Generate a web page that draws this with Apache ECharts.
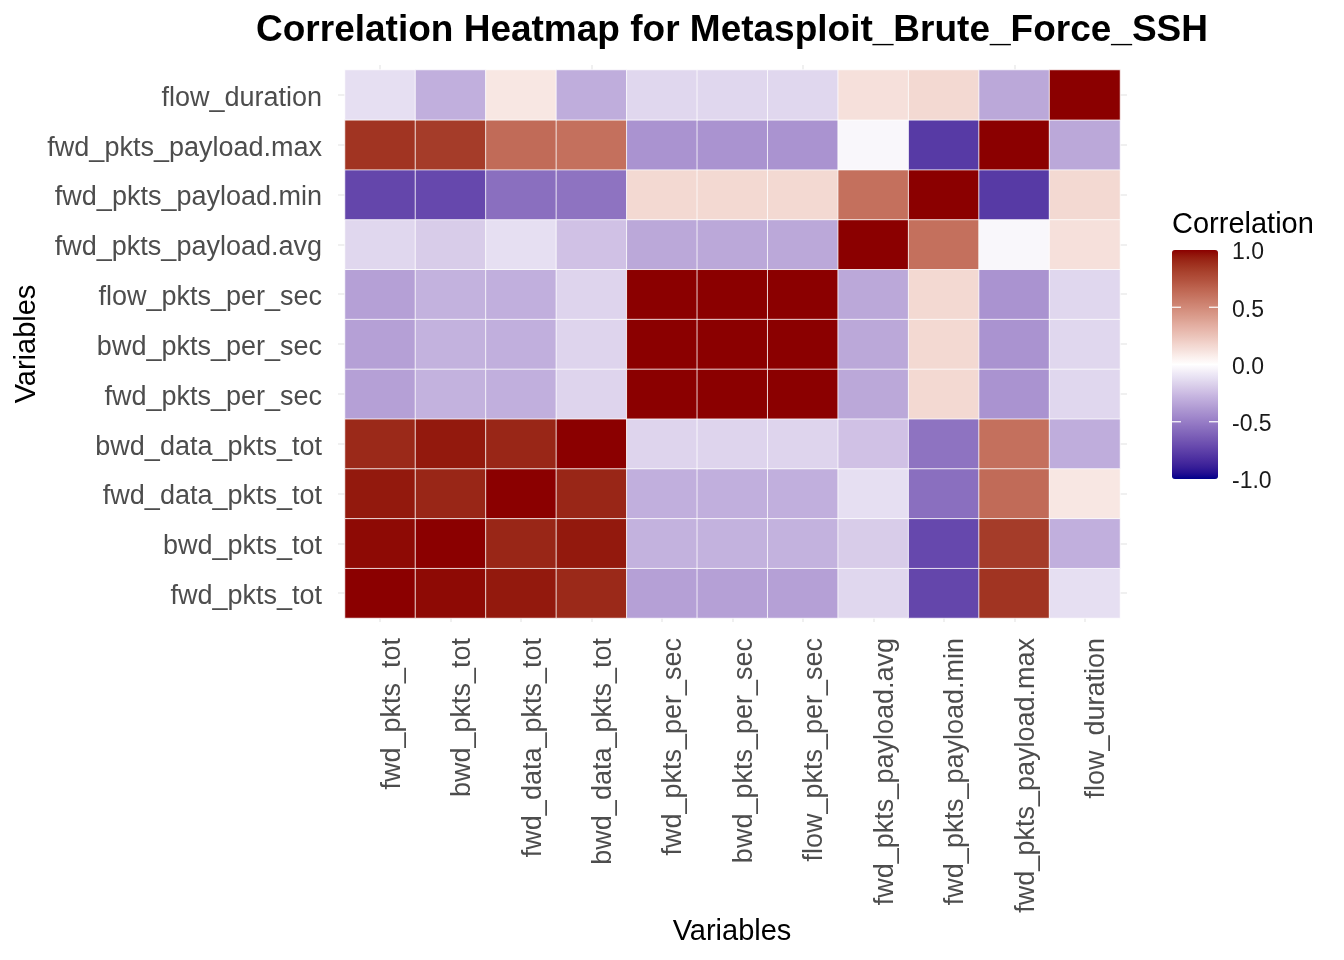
<!DOCTYPE html>
<html>
<head>
<meta charset="utf-8">
<script src="https://cdn.jsdelivr.net/npm/echarts@6/dist/echarts.min.js"></script>
<style>
html,body{margin:0;padding:0;background:#fff;}
#chart{width:1344px;height:960px;}
</style>
</head>
<body>
<div id="chart"></div>
<script>
// ---- data ----
const variables = [
  "fwd_pkts_tot", "bwd_pkts_tot", "fwd_data_pkts_tot", "bwd_data_pkts_tot",
  "fwd_pkts_per_sec", "bwd_pkts_per_sec", "flow_pkts_per_sec",
  "fwd_pkts_payload.avg", "fwd_pkts_payload.min", "fwd_pkts_payload.max", "flow_duration"
];
const fwd_pkts_tot         = [ 1.00,  0.98,  0.95,  0.90, -0.36, -0.36, -0.36, -0.15, -0.73,  0.86, -0.12];
const bwd_pkts_tot         = [ 0.98,  1.00,  0.91,  0.95, -0.29, -0.29, -0.29, -0.19, -0.72,  0.83, -0.30];
const fwd_data_pkts_tot    = [ 0.95,  0.91,  1.00,  0.91, -0.30, -0.30, -0.30, -0.12, -0.56,  0.63,  0.10];
const bwd_data_pkts_tot    = [ 0.90,  0.95,  0.91,  1.00, -0.16, -0.16, -0.16, -0.23, -0.54,  0.61, -0.31];
const fwd_pkts_per_sec     = [-0.36, -0.29, -0.30, -0.16,  1.00,  1.00,  1.00, -0.33,  0.16, -0.41, -0.15];
const bwd_pkts_per_sec     = [-0.36, -0.29, -0.30, -0.16,  1.00,  1.00,  1.00, -0.33,  0.16, -0.41, -0.15];
const flow_pkts_per_sec    = [-0.36, -0.29, -0.30, -0.16,  1.00,  1.00,  1.00, -0.33,  0.16, -0.41, -0.15];
const fwd_pkts_payload_avg = [-0.15, -0.19, -0.12, -0.23, -0.33, -0.33, -0.33,  1.00,  0.61, -0.03,  0.13];
const fwd_pkts_payload_min = [-0.73, -0.72, -0.56, -0.54,  0.16,  0.16,  0.16,  0.61,  1.00, -0.78,  0.16];
const fwd_pkts_payload_max = [ 0.86,  0.83,  0.63,  0.61, -0.41, -0.41, -0.41, -0.03, -0.78,  1.00, -0.33];
const flow_duration        = [-0.12, -0.30,  0.10, -0.31, -0.15, -0.15, -0.15,  0.13,  0.16, -0.33,  1.00];
const rows = [fwd_pkts_tot, bwd_pkts_tot, fwd_data_pkts_tot, bwd_data_pkts_tot,
  fwd_pkts_per_sec, bwd_pkts_per_sec, flow_pkts_per_sec,
  fwd_pkts_payload_avg, fwd_pkts_payload_min, fwd_pkts_payload_max, flow_duration];
const legendTicks = [1.0, 0.5, 0.0, -0.5, -1.0];

// ---- Lab colour ramp (ggplot gradient2: darkblue - white - darkred) ----
function hex2rgb(h){h=h.replace('#','');return [0,2,4].map(i=>parseInt(h.substr(i,2),16)/255);}
function lin(c){return c<=0.04045?c/12.92:Math.pow((c+0.055)/1.055,2.4);}
function gam(c){return c<=0.0031308?12.92*c:1.055*Math.pow(c,1/2.4)-0.055;}
const Xn=0.95047,Yn=1,Zn=1.08883;
function f(t){return t>0.008856?Math.cbrt(t):7.787*t+16/116;}
function fi(t){return t>0.206893?t*t*t:(t-16/116)/7.787;}
function toLab(hex){
  const [r,g,b]=hex2rgb(hex).map(lin);
  const X=0.4124*r+0.3576*g+0.1805*b, Y=0.2126*r+0.7152*g+0.0722*b, Z=0.0193*r+0.1192*g+0.9505*b;
  const fx=f(X/Xn),fy=f(Y/Yn),fz=f(Z/Zn);
  return [116*fy-16,500*(fx-fy),200*(fy-fz)];
}
function fromLab(L,a,bb){
  const fy=(L+16)/116,fx=fy+a/500,fz=fy-bb/200;
  const X=Xn*fi(fx),Y=Yn*fi(fy),Z=Zn*fi(fz);
  let r=3.2406*X-1.5372*Y-0.4986*Z, g=-0.9689*X+1.8758*Y+0.0415*Z, b=0.0557*X-0.2040*Y+1.0570*Z;
  return '#'+[r,g,b].map(c=>{let v=Math.round(Math.min(1,Math.max(0,gam(c)))*255);return v.toString(16).padStart(2,'0');}).join('');
}
const labLow=toLab('#00008B'),labMid=toLab('#FFFFFF'),labHigh=toLab('#8B0000');
const ramp=[];
for(let i=0;i<=40;i++){
  const v=-1+i*0.05;
  const t=Math.abs(v), end=v<0?labLow:labHigh;
  ramp.push(fromLab(labMid[0]+(end[0]-labMid[0])*t,labMid[1]+(end[1]-labMid[1])*t,labMid[2]+(end[2]-labMid[2])*t));
}

const heatData=[];
rows.forEach((row,yi)=>row.forEach((v,xi)=>heatData.push([xi,yi,v])));

const FONT="'Liberation Sans', Arial, sans-serif";
const chart=echarts.init(document.getElementById('chart'),null,{renderer:'canvas'});

const barTop=250, barBot=479, barLeft=1172, barW=46;
const legendGraphics=[];
legendTicks.forEach(v=>{
  const y=barTop+(1-v)/2*(barBot-barTop);
  legendGraphics.push({type:'text',x:1232,y:y+3,style:{text:v.toFixed(1),font:'23px '+FONT,fill:'#1a1a1a',textAlign:'left',textVerticalAlign:'middle'}});
  if(Math.abs(v)<1 && v!==0){
    legendGraphics.push({type:'line',shape:{x1:barLeft,y1:y,x2:barLeft+9,y2:y},style:{stroke:'#fff',lineWidth:1.2},z:100});
    legendGraphics.push({type:'line',shape:{x1:barLeft+barW-9,y1:y,x2:barLeft+barW,y2:y},style:{stroke:'#fff',lineWidth:1.2},z:100});
  }
});

const option={
  backgroundColor:'#ffffff',
  animation:false,
  grid:{left:345,right:224,top:70,bottom:342,containLabel:false},
  xAxis:[{
    type:'category',data:variables,position:'bottom',
    axisLine:{show:false},
    axisTick:{show:true,alignWithLabel:true,length:4,lineStyle:{color:'#EBEBEB',width:1.5}},
    axisLabel:{rotate:90,margin:20,fontSize:27,color:'#4D4D4D',fontFamily:FONT,interval:0,verticalAlign:'top',lineHeight:24},
    splitLine:{show:false}
  },{
    type:'category',data:variables,position:'top',
    axisLine:{show:false},
    axisTick:{show:true,alignWithLabel:true,length:5,lineStyle:{color:'#EBEBEB',width:1.5}},
    axisLabel:{show:false}
  }],
  yAxis:[{
    type:'category',data:variables,position:'left',
    axisLine:{show:false},
    axisTick:{show:true,alignWithLabel:true,length:7,lineStyle:{color:'#EBEBEB',width:1.5}},
    axisLabel:{margin:23,fontSize:27,color:'#4D4D4D',fontFamily:FONT,interval:0,verticalAlign:'top',lineHeight:7},
    splitLine:{show:false}
  },{
    type:'category',data:variables,position:'right',
    axisLine:{show:false},
    axisTick:{show:true,alignWithLabel:true,length:7,lineStyle:{color:'#EBEBEB',width:1.5}},
    axisLabel:{show:false}
  }],
  visualMap:{
    type:'continuous',min:-1,max:1,calculable:false,show:true,
    orient:'vertical',left:barLeft,top:barTop,itemWidth:barW,itemHeight:barBot-barTop,
    padding:0,text:null,showLabel:false,hoverLink:false,
    inRange:{color:ramp},seriesIndex:0
  },
  series:[{
    type:'heatmap',data:heatData,
    itemStyle:{borderColor:'#ffffff',borderWidth:0.8},
    emphasis:{disabled:true}
  }],
  graphic:[
    {type:'text',x:732,y:31,style:{text:'Correlation Heatmap for Metasploit_Brute_Force_SSH',font:'bold 37px '+FONT,fill:'#000',textAlign:'center',textVerticalAlign:'middle'}},
    {type:'text',x:732,y:932,style:{text:'Variables',font:'29px '+FONT,fill:'#000',textAlign:'center',textVerticalAlign:'middle'}},
    {type:'text',x:27,y:344,rotation:Math.PI/2,style:{text:'Variables',font:'29px '+FONT,fill:'#000',textAlign:'center',textVerticalAlign:'middle'}},
    {type:'text',x:1172,y:225,style:{text:'Correlation',font:'29px '+FONT,fill:'#000',textAlign:'left',textVerticalAlign:'middle'}}
  ].concat(legendGraphics)
};
chart.setOption(option);
</script>
</body>
</html>
